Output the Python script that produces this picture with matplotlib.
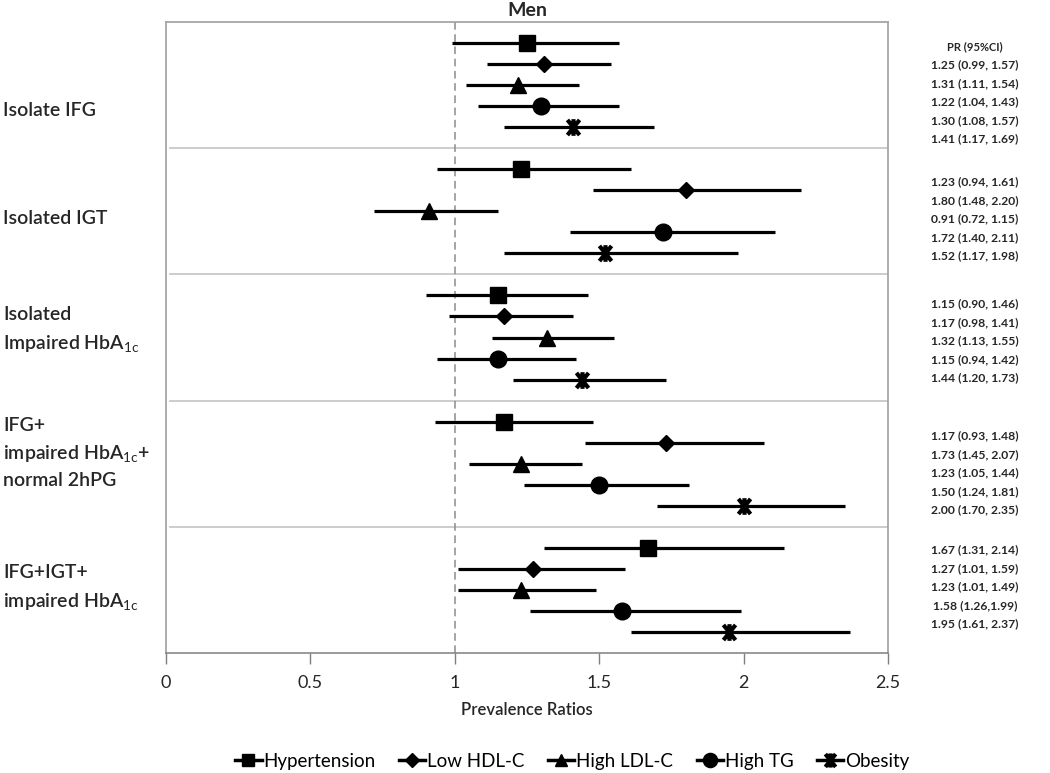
"""Forest plot of prevalence ratios (men) by glycaemic category."""

import matplotlib
matplotlib.use("Agg")
import matplotlib.pyplot as plt
import numpy as np
from matplotlib.path import Path

plt.rcParams["font.family"] = ["Lato", "DejaVu Sans"]
plt.rcParams["mathtext.fontset"] = "custom"
plt.rcParams["mathtext.rm"] = "Lato"
plt.rcParams["mathtext.it"] = "Lato"
plt.rcParams["mathtext.bf"] = "Lato:bold"

# ---------- data -----------------------------------------------------------
groups = [
    "Isolate IFG",
    "Isolated IGT",
    "Isolated\nImpaired HbA$_{1c}$",
    "IFG+\nimpaired HbA$_{1c}$+\nnormal 2hPG",
    "IFG+IGT+\nimpaired HbA$_{1c}$",
]
outcomes = ["Hypertension", "Low HDL-C", "High LDL-C", "High TG", "Obesity"]

# rows: groups, columns: outcomes
pr = np.array([
    [1.25, 1.31, 1.22, 1.30, 1.41],
    [1.23, 1.80, 0.91, 1.72, 1.52],
    [1.15, 1.17, 1.32, 1.15, 1.44],
    [1.17, 1.73, 1.23, 1.50, 2.00],
    [1.67, 1.27, 1.23, 1.58, 1.95],
])
ci_low = np.array([
    [0.99, 1.11, 1.04, 1.08, 1.17],
    [0.94, 1.48, 0.72, 1.40, 1.17],
    [0.90, 0.98, 1.13, 0.94, 1.20],
    [0.93, 1.45, 1.05, 1.24, 1.70],
    [1.31, 1.01, 1.01, 1.26, 1.61],
])
ci_high = np.array([
    [1.57, 1.54, 1.43, 1.57, 1.69],
    [1.61, 2.20, 1.15, 2.11, 1.98],
    [1.46, 1.41, 1.55, 1.42, 1.73],
    [1.48, 2.07, 1.44, 1.81, 2.35],
    [2.14, 1.59, 1.49, 1.99, 2.37],
])
ci_text = [
    ["1.25 (0.99, 1.57)", "1.31 (1.11, 1.54)", "1.22 (1.04, 1.43)", "1.30 (1.08, 1.57)", "1.41 (1.17, 1.69)"],
    ["1.23 (0.94, 1.61)", "1.80 (1.48, 2.20)", "0.91 (0.72, 1.15)", "1.72 (1.40, 2.11)", "1.52 (1.17, 1.98)"],
    ["1.15 (0.90, 1.46)", "1.17 (0.98, 1.41)", "1.32 (1.13, 1.55)", "1.15 (0.94, 1.42)", "1.44 (1.20, 1.73)"],
    ["1.17 (0.93, 1.48)", "1.73 (1.45, 2.07)", "1.23 (1.05, 1.44)", "1.50 (1.24, 1.81)", "2.00 (1.70, 2.35)"],
    ["1.67 (1.31, 2.14)", "1.27 (1.01, 1.59)", "1.23 (1.01, 1.49)", "1.58 (1.26,1.99)", "1.95 (1.61, 2.37)"],
]
xticks = [0, 0.5, 1, 1.5, 2, 2.5]
xtick_labels = ["0", "0.5", "1", "1.5", "2", "2.5"]

# ---------- style ----------------------------------------------------------
# Excel-style "star": an X plus a vertical stroke
star = Path([(-0.8, -1), (0.8, 1), (-0.8, 1), (0.8, -1), (0, -1.1), (0, 1.1)],
            [Path.MOVETO, Path.LINETO, Path.MOVETO, Path.LINETO, Path.MOVETO, Path.LINETO])
markers = {
    "Hypertension": dict(marker="s", ms=11),
    "Low HDL-C": dict(marker="D", ms=8),
    "High LDL-C": dict(marker="^", ms=11),
    "High TG": dict(marker="o", ms=12),
    "Obesity": dict(marker=star, ms=12, mew=3),
}
GRAY = "#a6a6a6"
TXT = "#262626"
H = 773

fig = plt.figure(figsize=(10.5, 7.73), dpi=100)
ax = fig.add_axes([0.158, 0.1552, 0.6877, 0.8163])

n_out = len(outcomes)
slot = n_out + 1  # one empty slot between groups for the separator
for gi in range(len(groups)):
    for oi, name in enumerate(outcomes):
        y = gi * slot + oi
        ax.plot([ci_low[gi, oi], ci_high[gi, oi]], [y, y], color="black",
                lw=2.3, solid_capstyle="butt", zorder=3)
        ax.plot(pr[gi, oi], y, color="black", ls="none", zorder=4,
                **markers[name])
    if gi < len(groups) - 1:
        ax.axhline(gi * slot + n_out, xmin=0.005, xmax=1.0, color="#c8c8c8",
                   lw=1.3, zorder=1)

ax.axvline(1, color="#8c8c8c", ls=(0, (5, 3)), lw=1.1, zorder=2)

ax.set_xlim(0, 2.5)
ax.set_ylim(len(groups) * slot - 1, -1)
ax.set_yticks([])
ax.set_xticks(xticks)
ax.set_xticklabels(xtick_labels, fontsize=13, color=TXT)
ax.tick_params(axis="x", direction="out", length=8, width=1, color="#7f7f7f", pad=8)
for side in ("left", "top", "right"):
    ax.spines[side].set_color(GRAY)
    ax.spines[side].set_linewidth(1.3)
ax.spines["bottom"].set_color("#7f7f7f")
ax.spines["bottom"].set_linewidth(1.1)
ax.set_xlabel("Prevalence Ratios", fontsize=12, fontweight="semibold",
              color=TXT, labelpad=8)
ax.set_title("Men", fontsize=14, fontweight="bold", color=TXT, pad=4)

# ---------- group labels (left) --------------------------------------------
label_y = [111, 218, 330, 453, 588]
for text, yp in zip(groups, label_y):
    fig.text(3 / 1050, 1 - yp / H, text, ha="left", va="center", fontsize=14,
             fontweight="semibold", color=TXT, linespacing=1.58)

# ---------- PR (95% CI) column ---------------------------------------------
fx = 975 / 1050
fig.text(fx, 1 - 47 / H, "PR (95%CI)", ha="center", va="center",
         fontsize=8, fontweight="bold", color=TXT)
first_rows = [65, 182, 304, 436, 550]
for gi, y0 in enumerate(first_rows):
    for oi, s in enumerate(ci_text[gi]):
        fig.text(fx, 1 - (y0 + oi * 18.5) / H, s, ha="center", va="center",
                 fontsize=8.7, fontweight="bold", color=TXT)

# ---------- legend ---------------------------------------------------------
handles = [plt.Line2D([], [], color="black", lw=2.5, **markers[n]) for n in outcomes]
fig.legend(handles, outcomes, loc="center", bbox_to_anchor=(0.545, 0.015),
           ncol=5, frameon=False, fontsize=13.5, handlelength=1.4,
           handletextpad=0.1, columnspacing=1.25, markerscale=0.85,
           borderpad=0)

fig.savefig("out.png", dpi=100)
